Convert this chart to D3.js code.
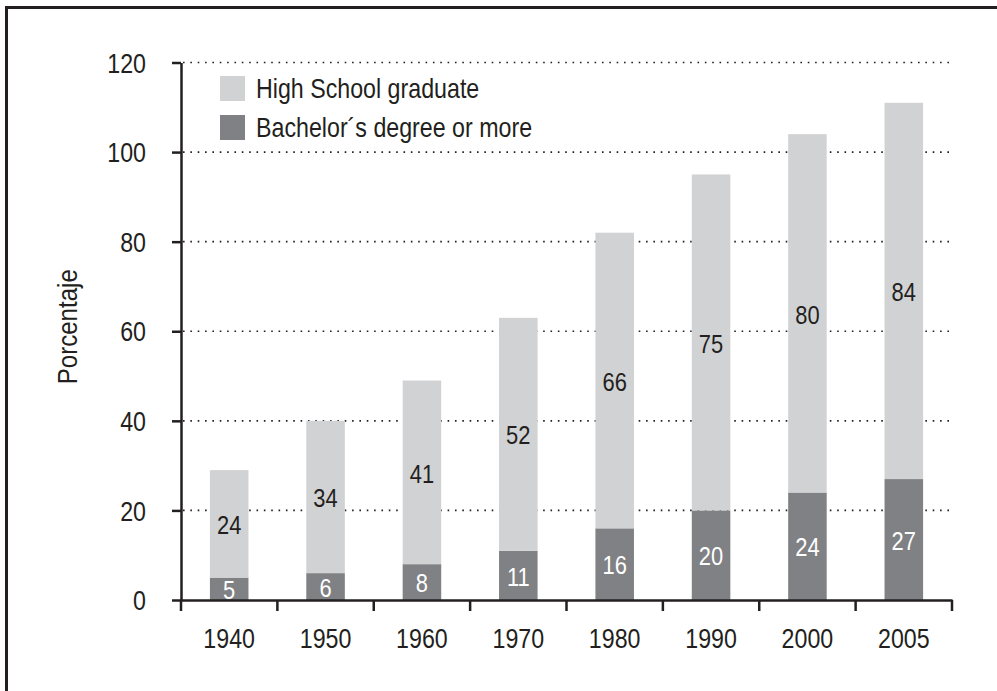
<!DOCTYPE html>
<html>
<head>
<meta charset="utf-8">
<script src="https://cdn.jsdelivr.net/npm/d3@7"></script>
<style>
  body { margin: 0; background: #fff; }
  svg text { font-family: "Liberation Sans", Arial, sans-serif; fill: #231f20; }
</style>
</head>
<body>
<div class="chart"></div>
<script>
// Education attainment, stacked bars

var years = ["1940", "1950", "1960", "1970", "1980", "1990", "2000", "2005"];
var highSchool = [24, 34, 41, 52, 66, 75, 80, 84];
var bachelor = [5, 6, 8, 11, 16, 20, 24, 27];
var seriesNames = ["High School graduate", "Bachelor\u00b4s degree or more"];
var yTicks = [0, 20, 40, 60, 80, 100, 120];

var svgWidth = 997;
var svgHeight = 691;

var lightGray = "#d1d2d4";
var darkGray = "#808184";
var ink = "#231f20";

// the original uses a condensed face, so squeeze the text horizontally
var squeeze = 0.86;
function condense(sel) {
  sel.each(function() {
    var t = d3.select(this);
    var tx = +t.attr("x") || 0;
    var ty = +t.attr("y") || 0;
    var prev = t.attr("transform") || "";
    t.attr("x", 0).attr("y", 0)
      .attr("transform", prev + " translate(" + tx + "," + ty + ") scale(" + squeeze + ",1)");
  });
}

var svg = d3.select(".chart")
  .append("svg")
  .attr("width", svgWidth)
  .attr("height", svgHeight);

// frame (right and bottom edges fall outside the picture)
svg.append("rect")
  .attr("x", 6.5)
  .attr("y", 7.5)
  .attr("width", svgWidth + 20)
  .attr("height", svgHeight + 20)
  .attr("fill", "none")
  .attr("stroke", ink)
  .attr("stroke-width", 3);

var x = d3.scaleBand()
  .domain(years)
  .range([181, 952])
  .paddingInner(0.6)
  .paddingOuter(0.3);

var y = d3.scaleLinear()
  .domain([0, 120])
  .range([600, 62.5]);

var data = years.map(function(d, i) {
  return { year: d, bachelor: bachelor[i], highSchool: highSchool[i] };
});

var stack = d3.stack().keys(["bachelor", "highSchool"]);
var layers = stack(data);
var colors = { bachelor: darkGray, highSchool: lightGray };

// dotted grid
svg.append("g")
  .selectAll("line")
  .data(yTicks.filter(function(d) { return d > 0; }))
  .enter().append("line")
    .attr("x1", 183)
    .attr("x2", 953)
    .attr("y1", function(d) { return y(d); })
    .attr("y2", function(d) { return y(d); })
    .attr("stroke", ink)
    .attr("stroke-width", 1.6)
    .attr("stroke-dasharray", "1.6,5.75");

// bars
var layer = svg.append("g")
  .selectAll("g")
  .data(layers)
  .enter().append("g")
    .attr("fill", function(d) { return colors[d.key]; });

layer.selectAll("rect")
  .data(function(d) { return d; })
  .enter().append("rect")
    .attr("x", function(d) { return x(d.data.year); })
    .attr("width", x.bandwidth())
    .attr("y", function(d) { return y(d[1]); })
    .attr("height", function(d) { return y(d[0]) - y(d[1]); });

// value labels in the middle of each segment
layers.forEach(function(l) {
  svg.append("g")
    .selectAll("text")
    .data(l)
    .enter().append("text")
      .attr("x", function(d) { return x(d.data.year) + x.bandwidth() / 2; })
      .attr("y", function(d) { return y((d[0] + d[1]) / 2) + 1; })
      .attr("dy", "0.36em")
      .attr("text-anchor", "middle")
      .style("font-size", "25.5px")
      .style("fill", l.key === "bachelor" ? "#fff" : ink)
      .text(function(d) { return d.data[l.key]; })
      .call(condense);
});

// y axis
var leftAxis = d3.axisLeft(y).tickValues(yTicks).tickSize(9).tickPadding(26).tickSizeOuter(0);
var yAxis = svg.append("g")
  .attr("transform", "translate(181,0)")
  .call(leftAxis);
yAxis.select(".domain").attr("stroke", ink).attr("stroke-width", 2.5);
yAxis.selectAll(".tick line").attr("stroke", ink).attr("stroke-width", 2.5);
yAxis.selectAll(".tick text")
  .style("font-size", "27px")
  .style("fill", ink)
  .attr("dy", "0.36em")
  .call(condense);

// x axis: labels at band centres, ticks at band edges
var bottomAxis = d3.axisBottom(x).tickSize(0).tickPadding(29).tickSizeOuter(0);
var xAxis = svg.append("g")
  .attr("transform", "translate(0,600)")
  .call(bottomAxis);
xAxis.select(".domain").attr("stroke", ink).attr("stroke-width", 2.5);
xAxis.selectAll(".tick text")
  .style("font-size", "27px")
  .style("fill", ink)
  .call(condense);

var edges = years.map(function(d) { return x(d) - (x.step() - x.bandwidth()) / 2; });
edges.push(x.range()[1]);
xAxis.selectAll(".edge")
  .data(edges)
  .enter().append("line")
    .attr("class", "edge")
    .attr("x1", function(d) { return d; })
    .attr("x2", function(d) { return d; })
    .attr("y1", 0)
    .attr("y2", 11)
    .attr("stroke", ink)
    .attr("stroke-width", 2.5);

// y axis title
svg.append("text")
  .attr("transform", "translate(77," + y(61) + ") rotate(-90) scale(" + squeeze + ",1)")
  .attr("text-anchor", "middle")
  .style("font-size", "28px")
  .text("Porcentaje");

// legend
var legend = svg.append("g")
  .selectAll("g")
  .data(seriesNames)
  .enter().append("g")
    .attr("transform", function(d, i) { return "translate(220," + (76 + i * 39) + ")"; });

legend.append("rect")
  .attr("width", 25)
  .attr("height", 25)
  .attr("fill", function(d, i) { return i === 0 ? lightGray : darkGray; });

legend.append("text")
  .attr("x", 36)
  .attr("y", 12.5)
  .attr("dy", "0.36em")
  .style("font-size", "27px")
  .text(function(d) { return d; })
  .call(condense);
</script>
</body>
</html>
